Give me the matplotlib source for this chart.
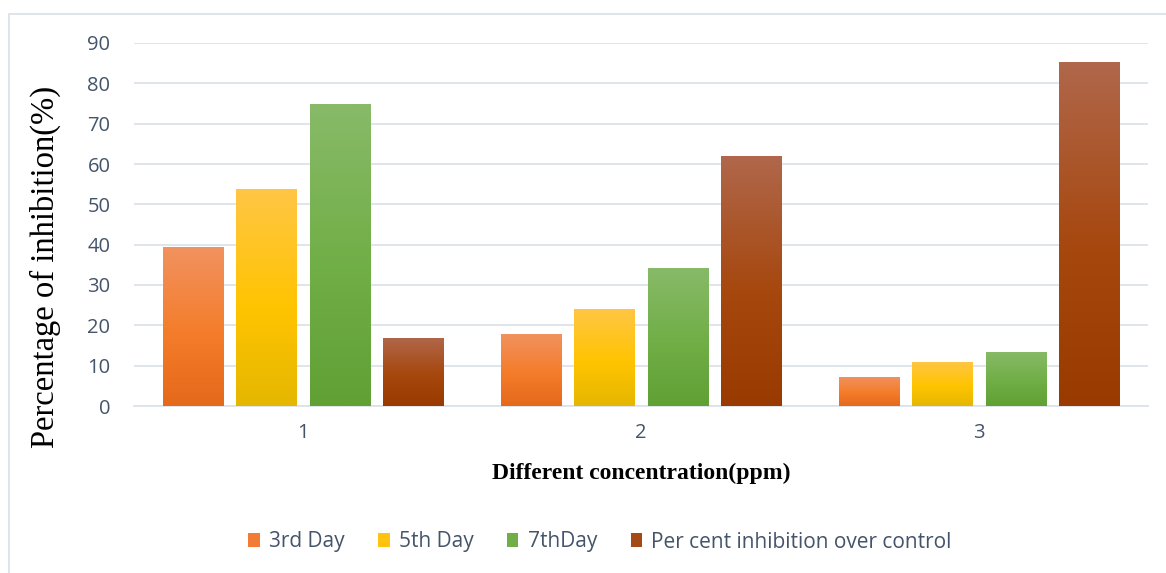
import matplotlib
matplotlib.use("Agg")
import matplotlib.pyplot as plt
import numpy as np
from matplotlib.colors import LinearSegmentedColormap
from matplotlib.patches import Rectangle

# Data
concentrations = ["1", "2", "3"]
series_names = ["3rd Day", "5th Day", "7thDay", "Per cent inhibition over control"]
day3 = [39.3, 17.9, 7.3]
day5 = [53.9, 24.1, 11.0]
day7 = [74.8, 34.3, 13.5]
control_inhibition = [16.9, 61.9, 85.2]
yticks = [0, 10, 20, 30, 40, 50, 60, 70, 80, 90]

# Gradient stops per series: (top, middle, bottom)
gradients = [
    ("#F1925F", "#F47C2A", "#E5691B"),
    ("#FFC646", "#FFC400", "#E5B700"),
    ("#88BA68", "#70AE46", "#60A034"),
    ("#B0674B", "#A6470D", "#993B00"),
]
legend_colors = ["#F27B35", "#FFC20E", "#71AD48", "#A44A17"]

text_color = "#44546A"
grid_color = "#DDE2E9"

fig = plt.figure(figsize=(11.66, 5.73), dpi=100)
W, H = 1166, 573
ax = fig.add_axes([134 / W, 1 - 406 / H, (1148 - 134) / W, (406 - 43) / H])

# Chart-area border
fig.add_artist(Rectangle((8.5 / W, -0.05), 1.2, 1 - 13.5 / H + 0.05,
                         transform=fig.transFigure, fill=False,
                         edgecolor="#D9DEE6", linewidth=1.2, zorder=0))

x = np.arange(1, len(concentrations) + 1)
pitch = 0.2175
width = 0.178
all_series = [day3, day5, day7, control_inhibition]

for i, (vals, stops) in enumerate(zip(all_series, gradients)):
    offset = (i - 1.5) * pitch
    cmap = LinearSegmentedColormap.from_list(f"g{i}", [(0, stops[2]), (0.45, stops[1]), (1, stops[0])])
    bars = ax.bar(x + offset, vals, width=width, color=legend_colors[i],
                  label=series_names[i], zorder=2)
    for b in bars:
        grad = np.linspace(0, 1, 256).reshape(-1, 1)
        im = ax.imshow(grad, cmap=cmap, aspect="auto", origin="lower",
                       extent=(b.get_x(), b.get_x() + b.get_width(), 0, b.get_height()),
                       zorder=3)
        im.set_clip_path(b)
        b.set_facecolor("none")
        b.set_edgecolor("none")

ax.set_xlim(0.5, 3.5)
ax.set_ylim(0, 90)
ax.set_yticks(yticks)
ax.set_xticks(x)
ax.set_xticklabels(concentrations)
ax.yaxis.grid(True, color=grid_color, linewidth=1.3, zorder=0)
ax.set_axisbelow(True)
for s in ["top", "right", "left"]:
    ax.spines[s].set_visible(False)
ax.spines["bottom"].set_color(grid_color)
ax.spines["bottom"].set_linewidth(1.3)
ax.tick_params(axis="both", length=0, labelsize=14.5, labelcolor=text_color,
               labelfontfamily="Open Sans")
ax.tick_params(axis="y", pad=17)
ax.tick_params(axis="x", pad=12)

fig.text(45 / W, 1 - 267 / H, "Percentage of inhibition(%)", family="Liberation Serif",
         fontsize=23.5, color="black", rotation=90, ha="center", va="center")
fig.text(641 / W, 1 - 473 / H, "Different concentration(ppm)", family="Liberation Serif",
         fontsize=17, fontweight="bold", color="black", ha="center", va="center")

handles = [Rectangle((0, 0), 1, 1, facecolor=c) for c in legend_colors]
leg = fig.legend(handles, series_names, loc="center", bbox_to_anchor=(600 / W, 1 - 542 / H),
                 ncol=4, frameon=False, handlelength=0.55, handleheight=0.62,
                 handletextpad=0.45, columnspacing=1.6,
                 prop={"family": "Open Sans", "size": 15})
for t in leg.get_texts():
    t.set_color(text_color)

fig.savefig("out.png", dpi=100, facecolor="white")
